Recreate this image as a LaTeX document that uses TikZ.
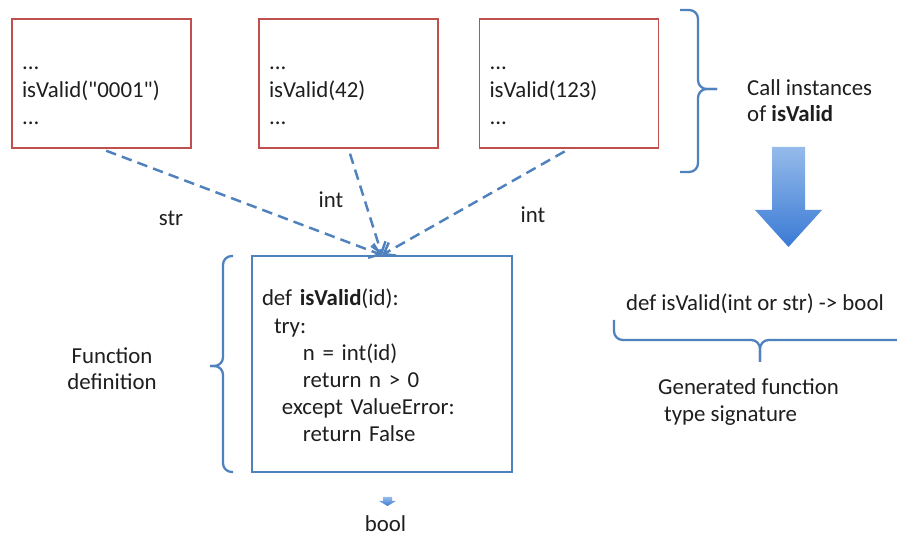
\documentclass[tikz,border=0pt]{standalone}
\usepackage{fontspec}
\setmainfont{Carlito}
\usetikzlibrary{arrows.meta}
\definecolor{ivink}{HTML}{1E1E1E}
\definecolor{ivred}{HTML}{C0504D}
\definecolor{ivblue}{HTML}{4F81BD}
\definecolor{ivlight}{HTML}{95BBEA}
\definecolor{ivdeep}{HTML}{3A7AD5}
\tikzset{
  iv text/.style={font=\fontsize{13}{15}\selectfont, text=ivink},
  iv call/.style={draw=ivred, line width=1.1pt, minimum width=3.58cm, minimum height=2.58cm,
    text width=3.18cm, inner xsep=0.2cm, align=left, text height=0.58cm, text depth=1.12cm,
    font=\fontsize{13}{15.5}\selectfont},
  iv def/.style={draw=ivblue, line width=1.1pt, minimum width=5.2cm, minimum height=4.32cm,
    text width=4.8cm, inner xsep=0.2cm, align=left, text height=0.4cm, text depth=2.72cm,
    font=\fontsize{13}{15.4}\selectfont},
  iv flow/.style={-{Straight Barb[length=2mm,width=3mm]}, draw=ivblue, line width=1.4pt,
    dash pattern=on 6pt off 3.5pt, shorten <=1mm},
  iv brace/.style={draw=ivblue, line width=1.3pt, rounded corners=5pt},
  iv block/.style={top color=ivlight, bottom color=ivdeep},
  iv note/.style={align=left}
}

\begin{document}
\begin{tikzpicture}[iv text, x=1cm, y=1cm]
  \useasboundingbox (0,0) rectangle (17.94,10.74);
  % call sites
  \node[iv call] (call1) at (2.03,9.07) {...\\isValid(\textquotedbl 0001\textquotedbl)\\...};
  \node[iv call] (call2) at (6.97,9.07) {...\\isValid(42)\\...};
  \node[iv call] (call3) at (11.38,9.07) {...\\isValid(123)\\...};
  % function body
  \node[iv def] (fun) at (7.64,3.46) {def \textbf{isValid}(id):\\
    \hspace*{0.24cm}try:\\
    \hspace*{0.82cm}n = int(id)\\
    \hspace*{0.82cm}return n > 0\\
    \hspace*{0.40cm}except ValueError:\\
    \hspace*{0.82cm}return False};
  \draw[iv flow] (call1.south) -- (fun.north);
  \draw[iv flow] (call2.south) -- (fun.north);
  \draw[iv flow] (call3.south) -- (fun.north);
  \node (strlbl) at (3.42,6.38) {str};
  \node (intlbl) at (6.62,6.74) {int};
  \node (intlblb) at (10.66,6.44) {int};
  % braces
  \draw[iv brace] (13.60,10.54) -- (13.96,10.54) -- (13.96,8.96) -- (14.34,8.96);
  \draw[iv brace] (13.60,7.30) -- (13.96,7.30) -- (13.96,8.96) -- (14.34,8.96);
  \draw[iv brace] (4.66,5.62) -- (4.46,5.62) -- (4.46,3.42) -- (4.20,3.42);
  \draw[iv brace] (4.66,1.30) -- (4.46,1.30) -- (4.46,3.42) -- (4.20,3.42);
  \draw[iv brace] (12.28,4.34) -- (12.28,3.94) -- (15.20,3.94) -- (15.20,3.50);
  \draw[iv brace] (17.94,3.94) -- (15.20,3.94) -- (15.20,3.50);
  \node[iv note, anchor=west] (callnote) at (14.82,8.73) {Call instances\\of \textbf{isValid}};
  \node[align=center] (fundef) at (2.24,3.37) {Function\\definition};
  \node (sig) at (15.10,4.66) {def isValid(int or str) -> bool};
  \node[iv note, anchor=west] (signote) at (13.04,2.70) {Generated function\\\hspace*{0.12cm}type signature};
  % block arrows
  \shade[iv block] (15.44,7.80) -- (16.10,7.80) -- (16.10,6.54) -- (16.44,6.54) -- (15.77,5.80)
    -- (15.10,6.54) -- (15.44,6.54) -- cycle;
  \shade[iv block] (7.66,0.80) -- (7.84,0.80) -- (7.84,0.72) -- (7.92,0.72) -- (7.75,0.62)
    -- (7.58,0.72) -- (7.66,0.72) -- cycle;
  \node[anchor=base] (bool) at (7.71,0.10) {bool};
\end{tikzpicture}
\end{document}
